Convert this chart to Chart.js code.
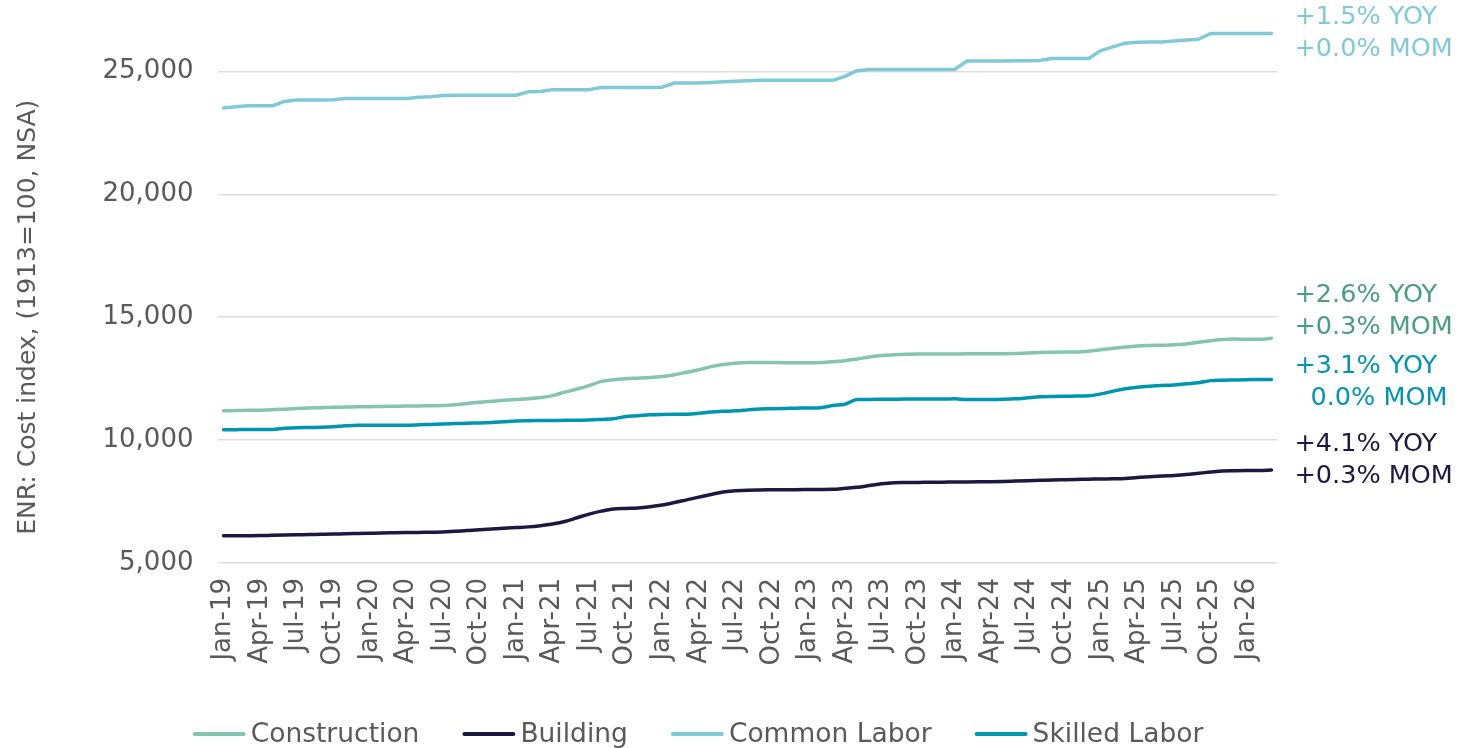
<!DOCTYPE html>
<html>
<head>
<meta charset="utf-8">
<title>ENR Cost Indexes</title>
<script src="https://cdn.jsdelivr.net/npm/chart.js@4.4.1/dist/chart.umd.min.js"></script>
<style>
  html, body { margin: 0; padding: 0; background: #ffffff; }
  #wrap { width: 1483px; height: 748px; }
</style>
</head>
<body>
<div id="wrap"><canvas id="chart" width="1483" height="748"></canvas></div>
<script>
// Monthly categories, Jan-19 through Mar-26
const monthNames = ['Jan','Feb','Mar','Apr','May','Jun','Jul','Aug','Sep','Oct','Nov','Dec'];
const months = [];
for (let yr = 19; yr <= 26; yr++) {
  for (let m = 0; m < 12; m++) {
    months.push(monthNames[m] + '-' + yr);
    if (yr === 26 && m === 2) break;
  }
}

// ENR cost index series (1913=100, NSA)
const construction = [
  11190,11200,11210,11220,11235,11260,11285,11305,11320,11335,11345,11355,
  11360,11370,11377,11385,11392,11398,11405,11440,11490,11540,11580,11620,
  11650,11680,11730,11810,11950,12080,12220,12390,12460,12500,12520,12545,
  12590,12660,12760,12860,12990,13080,13130,13160,13160,13160,13150,13150,
  13150,13160,13190,13230,13300,13380,13440,13470,13490,13500,13500,13500,
  13505,13510,13510,13510,13515,13525,13540,13560,13575,13585,13590,13620,
  13680,13740,13785,13830,13850,13860,13875,13910,13980,14040,14090,14110,
  14100,14100,14145
];
const building = [
  6110,6110,6112,6115,6125,6135,6145,6155,6165,6175,6190,6200,
  6210,6220,6228,6236,6244,6252,6260,6290,6320,6350,6380,6410,
  6440,6470,6520,6590,6690,6840,6990,7110,7200,7220,7240,7290,
  7360,7460,7570,7680,7790,7890,7935,7965,7975,7980,7985,7985,
  7990,7995,8000,8040,8080,8150,8220,8265,8275,8280,8285,8290,
  8295,8300,8305,8310,8320,8335,8350,8365,8380,8390,8400,8410,
  8420,8425,8440,8480,8510,8540,8565,8600,8650,8700,8745,8755,
  8760,8760,8785
];
const commonLabor = [
  23510,23560,23600,23600,23600,23780,23840,23840,23840,23850,23900,23900,
  23900,23900,23900,23900,23950,23970,24020,24030,24030,24030,24030,24030,
  24030,24170,24180,24260,24260,24260,24260,24350,24350,24350,24350,24350,
  24360,24530,24530,24530,24550,24580,24600,24620,24640,24640,24640,24640,
  24640,24640,24640,24800,25030,25080,25080,25080,25080,25080,25080,25080,
  25080,25420,25420,25420,25430,25440,25440,25450,25530,25530,25530,25530,
  25850,26000,26150,26190,26200,26200,26240,26280,26310,26540,26540,26540,
  26540,26540,26540
];
const skilledLabor = [
  10420,10425,10430,10430,10435,10480,10505,10510,10520,10540,10580,10608,
  10608,10608,10608,10608,10620,10640,10660,10675,10690,10700,10720,10750,
  10780,10790,10795,10800,10805,10808,10815,10840,10870,10960,10990,11030,
  11045,11050,11055,11090,11140,11170,11190,11230,11270,11280,11290,11300,
  11310,11320,11410,11460,11650,11655,11660,11665,11670,11670,11675,11675,
  11680,11650,11650,11655,11660,11680,11720,11760,11775,11785,11790,11800,
  11880,11990,12090,12150,12190,12220,12240,12290,12335,12420,12440,12450,
  12460,12470,12470
];

const yTicks = [5000, 10000, 15000, 20000, 25000];
const yTitle = 'ENR: Cost index, (1913=100, NSA)';

// Year-over-year / month-over-month notes shown at the right end of each line
const changeNotes = {
  'Common Labor':  ['+1.5% YOY', '+0.0% MOM'],
  'Construction':  ['+2.6% YOY', '+0.3% MOM'],
  'Skilled Labor': ['+3.1% YOY', '0.0% MOM'],
  'Building':      ['+4.1% YOY', '+0.3% MOM']
};

const FONT = '"DejaVu Sans", sans-serif';
const GREY = '#595959';

const series = [
  { label: 'Construction',  data: construction, color: '#86c5ad', note: '#4a9e80', shift: -27, tension: 0.35 },
  { label: 'Building',      data: building,     color: '#1c1940', note: '#1c1940', shift: -10, tension: 0.35 },
  { label: 'Common Labor',  data: commonLabor,  color: '#80cad8', note: '#80cad8', shift: 0,   tension: 0 },
  { label: 'Skilled Labor', data: skilledLabor, color: '#0096af', note: '#0096af', shift: 3,   tension: 0.3 }
];

// Draws the two-line change notes beside the last point of each series
const endNotes = {
  id: 'endNotes',
  afterDatasetsDraw(chart) {
    const ctx = chart.ctx;
    const x0 = chart.chartArea.right + 17;
    ctx.save();
    ctx.font = '25.5px ' + FONT;
    ctx.textBaseline = 'middle';
    ctx.textAlign = 'left';
    const plusW = ctx.measureText('+').width;
    chart.data.datasets.forEach((ds, i) => {
      const meta = chart.getDatasetMeta(i);
      const last = meta.data[meta.data.length - 1];
      const lines = changeNotes[ds.label];
      const cy = last.y + ds.noteShift;
      ctx.fillStyle = ds.noteColor;
      lines.forEach((t, k) => {
        const x = t[0] === '+' ? x0 : x0 + plusW * 0.75;
        ctx.fillText(t, x, cy - 16 + k * 32);
      });
    });
    ctx.restore();
  }
};

// Rotated value-axis title, centred on the labelled tick range
const axisTitle = {
  id: 'axisTitle',
  afterDraw(chart) {
    const ctx = chart.ctx;
    const y = chart.scales.y;
    const mid = y.getPixelForValue((yTicks[0] + yTicks[yTicks.length - 1]) / 2);
    ctx.save();
    ctx.translate(28, mid);
    ctx.rotate(-Math.PI / 2);
    ctx.font = '25px ' + FONT;
    ctx.fillStyle = GREY;
    ctx.textAlign = 'center';
    ctx.textBaseline = 'middle';
    ctx.fillText(yTitle, 0, 0);
    ctx.restore();
  }
};

// Single-row legend under the axis labels
const bottomLegend = {
  id: 'bottomLegend',
  afterDraw(chart) {
    const ctx = chart.ctx;
    ctx.save();
    ctx.font = '26.5px ' + FONT;
    ctx.textBaseline = 'middle';
    ctx.textAlign = 'left';
    const swatch = 53, gap = 5, itemGap = 43;
    const items = chart.data.datasets.map(ds => ({
      label: ds.label, color: ds.borderColor, w: ctx.measureText(ds.label).width
    }));
    const total = items.reduce((s, it) => s + swatch + gap + it.w, 0) + itemGap * (items.length - 1);
    let x = 698 - total / 2;
    const y = chart.height - 14;
    items.forEach(it => {
      ctx.strokeStyle = it.color;
      ctx.lineWidth = 4;
      ctx.lineCap = 'round';
      ctx.beginPath();
      ctx.moveTo(x + 2, y);
      ctx.lineTo(x + swatch - 2, y);
      ctx.stroke();
      ctx.fillStyle = GREY;
      ctx.fillText(it.label, x + swatch + gap, y + 1);
      x += swatch + gap + it.w + itemGap;
    });
    ctx.restore();
  }
};

new Chart(document.getElementById('chart'), {
  type: 'line',
  data: {
    labels: months,
    datasets: series.map(s => ({
      label: s.label,
      data: s.data,
      borderColor: s.color,
      backgroundColor: s.color,
      borderWidth: 3.5,
      pointRadius: 0,
      pointHoverRadius: 0,
      tension: s.tension,
      cubicInterpolationMode: s.tension ? 'monotone' : 'default',
      borderCapStyle: 'round',
      borderJoinStyle: 'round',
      fill: false,
      noteColor: s.note,
      noteShift: s.shift
    }))
  },
  options: {
    responsive: false,
    animation: false,
    devicePixelRatio: 1,
    layout: { padding: { top: 10, right: 205.5, bottom: 50, left: 0 } },
    plugins: {
      legend: { display: false },
      tooltip: { enabled: false }
    },
    scales: {
      x: {
        type: 'category',
        offset: true,
        grid: { display: false, drawTicks: false },
        border: { display: false },
        afterFit(scale) {
          scale.height = 135;
          scale.paddingLeft = 0;
          scale.paddingRight = 0;
        },
        ticks: {
          autoSkip: false,
          minRotation: 90,
          maxRotation: 90,
          padding: 15,
          color: GREY,
          font: { family: FONT, size: 26 },
          callback(val, idx) { return idx % 3 === 0 ? this.getLabelForValue(val) : null; }
        }
      },
      y: {
        min: 5000,
        max: 27500,
        afterBuildTicks(scale) { scale.ticks = yTicks.map(v => ({ value: v })); },
        afterFit(scale) {
          scale.width = 217.5;
          scale.paddingTop = 0;
          scale.paddingBottom = 0;
        },
        grid: { color: '#dedede', lineWidth: 1.6, drawTicks: false },
        border: { display: false },
        ticks: {
          padding: 24,
          color: GREY,
          font: { family: FONT, size: 26 },
          callback(v) { return v.toLocaleString('en-US'); }
        }
      }
    }
  },
  plugins: [endNotes, axisTitle, bottomLegend]
});
</script>
</body>
</html>
